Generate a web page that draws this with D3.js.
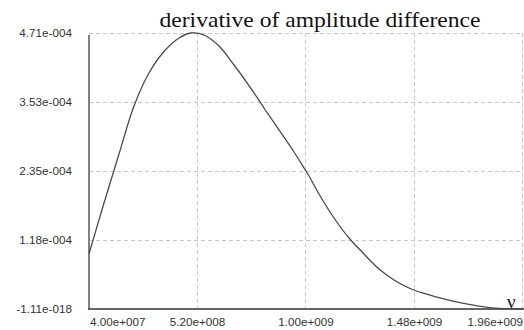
<!DOCTYPE html>
<html>
<head>
<meta charset="utf-8">
<script src="https://cdn.jsdelivr.net/npm/d3@7"></script>
<style>
  body { margin: 0; background: #fff; }
  .tick-label { font-family: Arial, 'Liberation Sans', sans-serif; font-size: 11.7px; fill: #333; }
  .grid { stroke: #c8c8c8; stroke-width: 1; stroke-dasharray: 4,3; }
</style>
</head>
<body>
<div id="chart"></div>
<script>
const width = 524;
const height = 330;

// frequency (Hz) and derivative values
const freq = [4.0e7, 1.064e8, 1.727e8, 2.391e8, 3.054e8, 3.718e8, 4.382e8, 4.912e8, 5.488e8, 6.151e8,
  6.815e8, 7.478e8, 8.142e8, 8.806e8, 9.469e8, 9.912e8, 1.0133e9, 1.0575e9, 1.1239e9, 1.1902e9,
  1.2566e9, 1.323e9, 1.3893e9, 1.4557e9, 1.522e9, 1.5884e9, 1.6548e9, 1.7211e9, 1.7875e9, 1.8538e9,
  1.9202e9, 1.96e9];
const deriv = [0.939e-4, 1.809e-4, 2.645e-4, 3.464e-4, 4.027e-4, 4.394e-4, 4.625e-4, 4.71e-4, 4.676e-4, 4.488e-4,
  4.164e-4, 3.814e-4, 3.43e-4, 3.055e-4, 2.679e-4, 2.406e-4, 2.27e-4, 1.962e-4, 1.553e-4, 1.212e-4,
  0.939e-4, 0.683e-4, 0.495e-4, 0.358e-4, 0.265e-4, 0.193e-4, 0.131e-4, 0.08e-4, 0.038e-4, 0.012e-4,
  0.002e-4, 0];

const xTicks = [4.0e7, 5.2e8, 1.0e9, 1.48e9, 1.96e9];
const xTickLabels = ['4.00e+007', '5.20e+008', '1.00e+009', '1.48e+009', '1.96e+009'];
const yTicks = [-1.11e-18, 1.18e-4, 2.35e-4, 3.53e-4, 4.71e-4];
const yTickLabels = ['-1.11e-018', '1.18e-004', '2.35e-004', '3.53e-004', '4.71e-004'];

const margin = { top: 33, right: 1, bottom: 21, left: 89 };

const svg = d3
  .select('#chart')
  .append('svg')
  .attr('width', width)
  .attr('height', height);

const x = d3.scaleLinear().domain([4.0e7, 1.96e9]).range([margin.left, width - margin.right]);
const y = d3.scaleLinear().domain([-1.11e-18, 4.71e-4]).range([height - margin.bottom, margin.top]);

// grid
svg.append('g')
  .selectAll('line')
  .data(yTicks.slice(1))
  .enter()
  .append('line')
  .attr('class', 'grid')
  .attr('x1', margin.left)
  .attr('x2', width - margin.right)
  .attr('y1', (d) => Math.round(y(d)) + 0.5)
  .attr('y2', (d) => Math.round(y(d)) + 0.5);

svg.append('g')
  .selectAll('line')
  .data(xTicks.slice(1))
  .enter()
  .append('line')
  .attr('class', 'grid')
  .attr('x1', (d) => Math.round(x(d)) - 0.5)
  .attr('x2', (d) => Math.round(x(d)) - 0.5)
  .attr('y1', margin.top)
  .attr('y2', height - margin.bottom);

// axes lines
svg.append('line')
  .attr('x1', margin.left).attr('x2', margin.left)
  .attr('y1', margin.top + 2).attr('y2', height - margin.bottom)
  .attr('stroke', '#808080').attr('stroke-width', 2);

svg.append('line')
  .attr('x1', margin.left - 1).attr('x2', width)
  .attr('y1', height - margin.bottom).attr('y2', height - margin.bottom)
  .attr('stroke', '#333').attr('stroke-width', 1.5);

// curve
const line = d3.line()
  .x((d, i) => x(freq[i]))
  .y((d) => y(d))
  .curve(d3.curveCatmullRom.alpha(0.5));

svg.append('path')
  .datum(deriv)
  .attr('d', line)
  .attr('fill', 'none')
  .attr('stroke', '#4a4a4a')
  .attr('stroke-width', 1.3);

// tick labels
svg.append('g')
  .selectAll('text')
  .data(yTicks)
  .enter()
  .append('text')
  .attr('class', 'tick-label')
  .attr('x', 72)
  .attr('y', (d) => y(d) + 4)
  .attr('text-anchor', 'end')
  .text((d, i) => yTickLabels[i]);

svg.append('g')
  .selectAll('text')
  .data(xTicks)
  .enter()
  .append('text')
  .attr('class', 'tick-label')
  .attr('x', (d, i) => (i === 0 ? x(d) + 1 : x(d)))
  .attr('y', 326)
  .attr('text-anchor', (d, i) => (i === 0 ? 'start' : i === xTicks.length - 1 ? 'end' : 'middle'))
  .text((d, i) => xTickLabels[i]);

// title and axis symbol
svg.append('text')
  .attr('x', 320)
  .attr('y', 27)
  .attr('text-anchor', 'middle')
  .attr('textLength', 321)
  .attr('lengthAdjust', 'spacingAndGlyphs')
  .style('font-family', "'Times New Roman', 'Liberation Serif', serif")
  .style('font-size', '21px')
  .style('fill', '#111')
  .text('derivative of amplitude difference');

svg.append('text')
  .attr('x', 507)
  .attr('y', 308)
  .style('font-family', "'Times New Roman', 'Liberation Serif', serif")
  .style('font-size', '19px')
  .style('fill', '#111')
  .text('ν');
</script>
</body>
</html>
